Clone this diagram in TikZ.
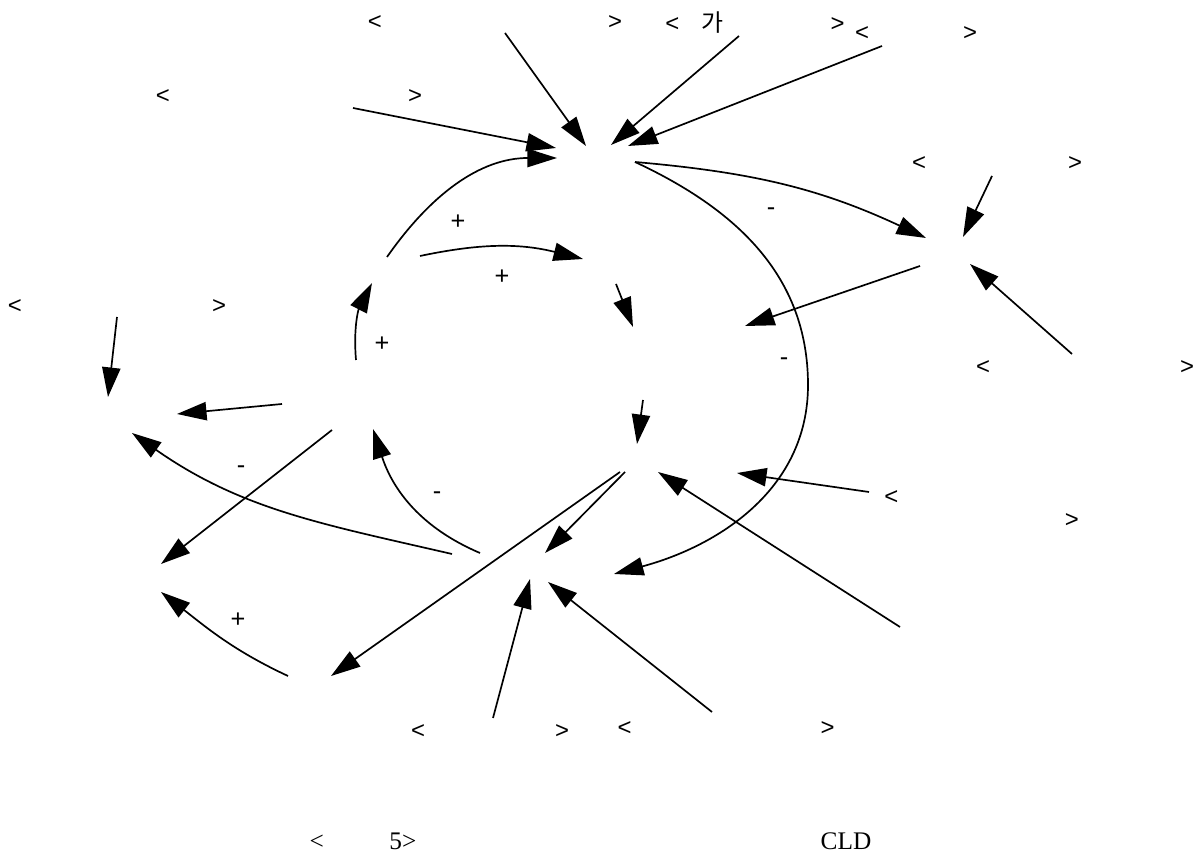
\documentclass[tikz,border=0pt]{standalone}
\usepackage{fontspec}
\setmainfont{Liberation Serif}
\newfontfamily\labfont{Liberation Sans}
\newfontfamily\krfont{Noto Sans CJK KR}
\usepackage{tikz}
\usetikzlibrary{arrows.meta, calc}
% bracket pair of a shadow variable, #1 = distance of the brackets
\newcommand{\sv}[1]{<\hspace{\dimexpr 0.7113pt*#1 - 0.584em\relax}>}

\begin{document}
\begin{tikzpicture}[x=0.025cm, y=0.025cm,
  link/.style={-{Triangle[length=21pt,width=13pt]}, line width=1.2pt},
  var/.style={inner sep=0pt, minimum size=0pt},
  shadow/.style={font=\labfont\fontsize{17}{17}\selectfont, inner sep=0pt},
  sign/.style={font=\labfont\fontsize{18}{18}\selectfont, inner sep=0pt}]
  \useasboundingbox (0,0) rectangle (1195,860);

  % variables
  \node[var] (A) at (595,700) {};
  \node[var] (B) at (948,608) {};
  \node[var] (C) at (390,590) {};
  \node[var] (D) at (605,598) {};
  \node[var] (F) at (690,515) {};
  \node[var] (G) at (640,395) {};
  \node[var] (H) at (535,295) {};
  \node[var] (E) at (325,465) {};
  \node[var] (N) at (125,440) {};
  \node[var] (M) at (110,285) {};
  \node[var] (K) at (305,170) {};
  \node[var] (P) at (935,215) {};

  % shadow variables
  \node[shadow] (s1) at (495,837) {\sv{240}};
  \node[shadow] (s2) at (755,837) {<\hspace{15.8pt}{\krfont 가}\hspace{76.2pt}>};
  \node[shadow] (s3) at (916,826) {\sv{108}};
  \node[shadow] (s4) at (289,763) {\sv{252}};
  \node[shadow] (s5) at (997,696) {\sv{156}};
  \node[shadow] (s6) at (117,553) {\sv{204}};
  \node[shadow] (s7) at (1085,492) {\sv{204}};
  \node[shadow, align=left, anchor=base west] (s8) at (884,332) {<\\\hspace{128.5pt}>};
  \node[shadow] (s9) at (490,128) {\sv{144}};
  \node[shadow] (s10) at (726,131) {\sv{203}};

  % links into A
  \draw[link] ($(s1)+(10,-10)$) -- ($(A)+(-9,14)$);
  \draw[link] ($(s2)+(-16,-13)$) -- ($(A)+(16,15)$);
  \draw[link] ($(s3)+(-34,-12)$) -- ($(A)+(33,14)$);
  \draw[link] ($(s4)+(64,-11)$) -- ($(A)+(-39,12)$);
  \draw[link] ($(C)+(-3,13)$) to[out=55,in=180] ($(A)+(-38,2)$);

  % links out of A
  \draw[link] ($(A)+(40,-2)$) to[out=-5,in=155] ($(B)+(-22,14)$);
  \draw[link] ($(A)+(40,-2)$) to[out=-25,in=90] (808,475) to[out=-90,in=15] ($(H)+(79,-9)$);

  % middle chain
  \draw[link] ($(C)+(30,14)$) to[bend left=13] ($(D)+(-22,3)$);
  \draw[link] ($(D)+(11,-22)$) -- ($(F)+(-57,18)$);
  \draw[link] ($(B)+(-28,-14)$) -- ($(F)+(55,19)$);
  \draw[link] ($(s5)+(-5,-12)$) -- ($(B)+(15,15)$);
  \draw[link] ($(s7)+(-13,14)$) -- ($(B)+(22,-12)$);
  \draw[link] ($(F)+(-47,-55)$) -- ($(G)+(-3,21)$);
  \draw[link] ($(s8.base west)+(-15,36)$) -- ($(G)+(97,-8)$);
  \draw[link] ($(P)+(-35,18)$) -- ($(G)+(18,-7)$);
  \draw[link] ($(G)+(-15,-7)$) -- ($(H)+(10,12)$);
  \draw[link] ($(G)+(-20,-7)$) -- ($(K)+(26,14)$);
  \draw[link] ($(s9)+(3,14)$) -- ($(H)+(-5,-14)$);
  \draw[link] ($(s10)+(-14,17)$) -- ($(H)+(13,-17)$);

  % left side
  \draw[link] ($(H)+(-83,11)$) to[out=167,in=-35] ($(N)+(7,-13)$);
  \draw[link] ($(H)+(-55,12)$) to[out=157,in=-72] ($(E)+(48,-34)$);
  \draw[link] ($(E)+(31,35)$) to[out=95,in=-117] ($(C)+(-18,-13)$);
  \draw[link] ($(E)+(-43,-9)$) -- ($(N)+(52,6)$);
  \draw[link] ($(E)+(7,-35)$) -- ($(M)+(51,11)$);
  \draw[link] ($(s6)+(0,-10)$) -- ($(N)+(-17,23)$);
  \draw[link] ($(K)+(-17,14)$) to[out=155,in=-38] ($(M)+(51,-17)$);

  % polarities
  \node[sign] (p1) at (458,638) {+};
  \node[sign] (p2) at (502,583) {+};
  \node[sign] (p3) at (382,516) {+};
  \node[sign] (p4) at (238,240) {+};
  \node[sign] (m1) at (771,648) {-};
  \node[sign] (m2) at (784,498) {-};
  \node[sign] (m3) at (241,390) {-};
  \node[sign] (m4) at (437,364) {-};

  % caption
  \node[font=\fontsize{18}{18}\selectfont, anchor=base] (cap1) at (363,10) {<\hspace{46.5pt}5>};
  \node[font=\fontsize{18}{18}\selectfont, anchor=base] (cap2) at (846,10) {CLD};
\end{tikzpicture}
\end{document}
